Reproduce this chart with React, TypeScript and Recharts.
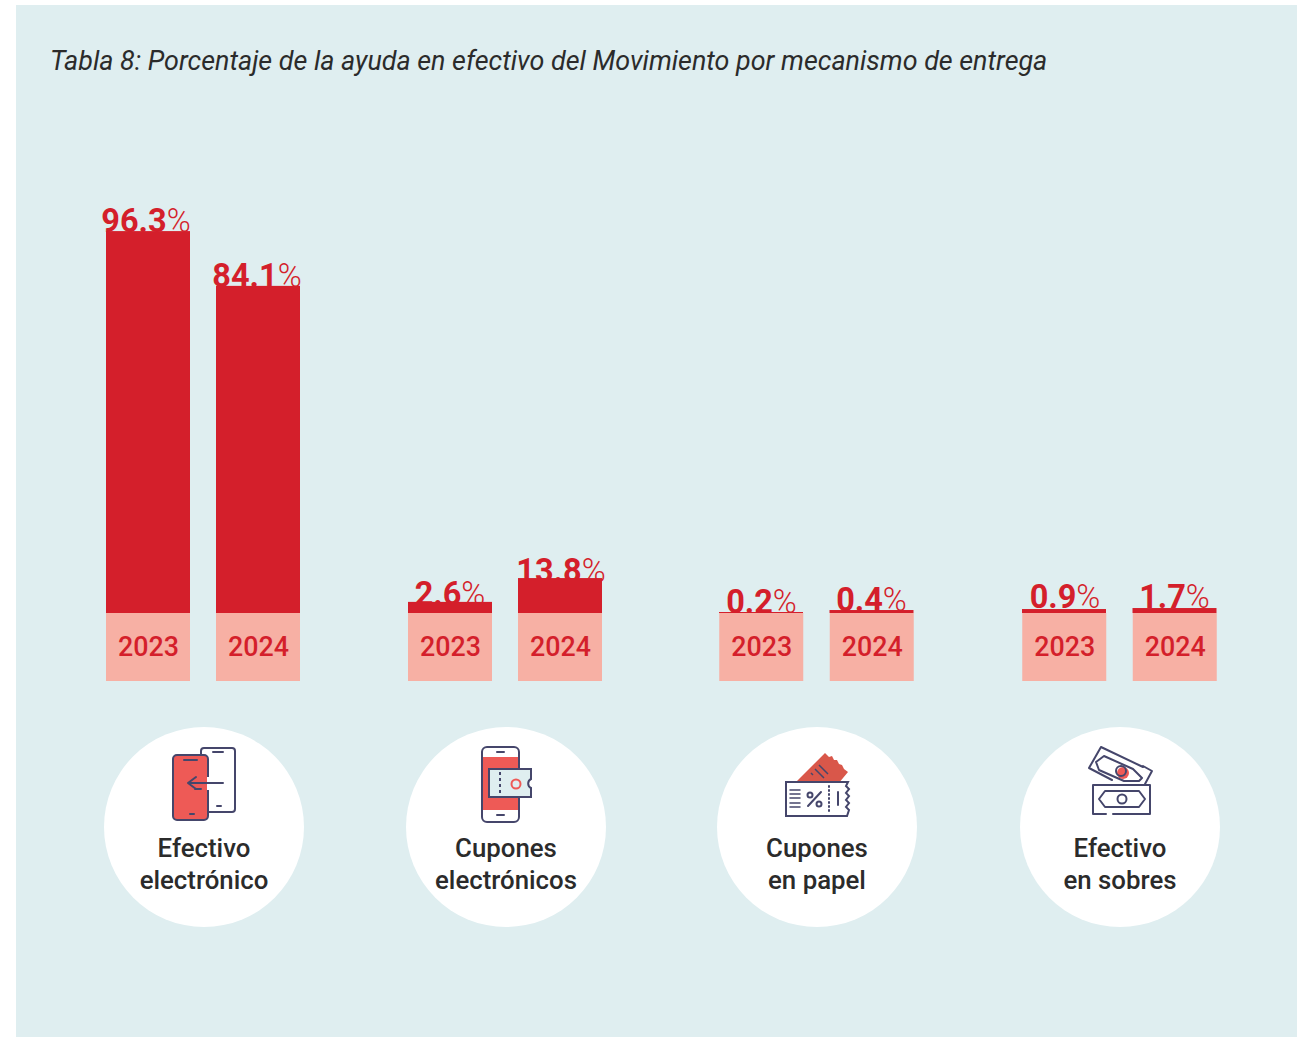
import React from 'react';
import { BarChart, Bar, XAxis, YAxis } from 'recharts';

const TITLE = 'Tabla 8: Porcentaje de la ayuda en efectivo del Movimiento por mecanismo de entrega';

const years = ['2023', '2024'];
const mechanisms = [
  ['Efectivo', 'electrónico'],
  ['Cupones', 'electrónicos'],
  ['Cupones', 'en papel'],
  ['Efectivo', 'en sobres'],
];

// printed percentages
const printedValues = [
  [96.3, 84.1],
  [2.6, 13.8],
  [0.2, 0.4],
  [0.9, 1.7],
];

// the bars in the source are not to scale with their labels, so these are read off the bar heights
const drawnHeights = [
  [96.2, 82.4],
  [2.8, 8.8],
  [0.25, 0.75],
  [1.0, 1.25],
];

const RED = '#d41f2b';
const PALE = '#f7b0a4';
const PANEL = '#dfeef0';
const INK = '#45466b';
const ICON_RED = '#ee5a56';
const FONT = 'Roboto, sans-serif';

// left edge and slot width of each small chart
const chartLeft = [93, 395, 706, 1009];
const slotWidth = [110, 110, 110.5, 110.5];
const circleX = [204, 506, 817, 1120];

// label nudges, [dx, dy] from the top centre of the bar
const labelNudge = [
  [[-2, 0.5], [-1, 1.5]],
  [[0, 3.5], [1, 3.5]],
  [[0.5, 1], [0, 0.5]],
  [[1, -1.5], [0, -0.5]],
];

const YearTick = ({ x, y, payload }: any) => (
  <g>
    <rect x={x - 42} y={y} width={84} height={68} fill={PALE} />
    <text x={x + 0.5} y={y + 42.5} textAnchor="middle" fontFamily={FONT} fontWeight={500} fontSize={26.8} fill={RED}>
      {payload.value}
    </text>
  </g>
);

// text first and bar after it: in the source the bar covers the foot of the figures
const BarWithLabel = ({ x, y, width, height, payload, nudges }: any) => {
  const [dx, dy] = nudges[years.indexOf(payload.year)];
  return (
    <g>
      <text x={x + width / 2 + dx} y={y + dy} textAnchor="middle" fontFamily={FONT} fontSize={32.5} fill={RED}>
        <tspan fontWeight={700}>{payload.printed}</tspan>
        <tspan fontWeight={300}>%</tspan>
      </text>
      <rect x={x} y={y} width={width} height={height} fill={RED} />
    </g>
  );
};

const MechanismChart = ({ index }: { index: number }) => {
  const data = years.map((year, i) => ({
    year,
    height: drawnHeights[index][i],
    printed: printedValues[index][i],
  }));
  return (
    <div style={{ position: 'absolute', left: chartLeft[index], top: 180 }}>
      <BarChart
        width={slotWidth[index] * 2}
        height={501}
        data={data}
        margin={{ top: 36, right: 0, bottom: 0, left: 0 }}
        style={{ overflow: 'visible' }}
      >
        <YAxis hide domain={[0, 100]} />
        <XAxis
          dataKey="year"
          height={68}
          interval={0}
          axisLine={false}
          tickLine={false}
          tickSize={0}
          tickMargin={0}
          tick={<YearTick />}
        />
        <Bar
          dataKey="height"
          barSize={84}
          isAnimationActive={false}
          shape={(props: any) => <BarWithLabel {...props} nudges={labelNudge[index]} />}
        />
      </BarChart>
    </div>
  );
};

const line = { fill: 'none', stroke: INK, strokeWidth: 2, strokeLinecap: 'round', strokeLinejoin: 'round' } as const;

const Icons = () => (
  <svg width={1297} height={1038} style={{ position: 'absolute', left: 0, top: 0 }}>
    {circleX.map((cx) => (
      <circle key={cx} cx={cx} cy={827} r={100} fill="#fff" />
    ))}

    {/* phones */}
    <path d="M201 754 v-3 a3 3 0 0 1 3-3 h28 a3 3 0 0 1 3 3 v58 a3 3 0 0 1-3 3 h-24" {...line} />
    <path d="M213 752 h10 M217 806 h4" {...line} />
    <rect x={173} y={755} width={35} height={65} rx={4} fill={ICON_RED} stroke={INK} strokeWidth={2} />
    <path d="M184 760 h13 M190 814 h4" {...line} />
    <rect x={207} y={777} width={3} height={13} fill="#fff" />
    <path d="M223 783 h-35 M196 777 l-8 6 l8 6 M195 789 h6" {...line} />

    {/* phone with coupon */}
    <rect x={482} y={747} width={37} height={75} rx={5} fill="#fff" stroke={INK} strokeWidth={2} />
    <rect x={483} y={757} width={35} height={53} fill={ICON_RED} />
    <path d="M497 752 h7 M497 815 h7" {...line} />
    <path d="M489 769 h42 v10 a5 5 0 0 0 0 9 v9 h-42 z" fill={PANEL} stroke={INK} strokeWidth={2} />
    <path d="M500 772 v24" {...line} strokeDasharray="3 3" strokeLinecap="butt" />
    <circle cx={516} cy={784} r={4.5} fill="none" stroke={ICON_RED} strokeWidth={2} />

    {/* paper coupons */}
    <path d="M796 782 L825 753 l4 4 l3 -1 l2 4 l3 0 l2 4 l3 1 l2 4 l4 3 l-10 12 z" fill="#d9574a" />
    <path d="M815 769 l9 9 M819 765 l9 9 M811 773 l2 2" fill="none" stroke={INK} strokeWidth={1.5} />
    <path
      d="M786 782 H848 l-2 4 l3 3 l-3 4 l3 3 l-3 4 l3 3 l-3 4 l3 3 l-2 6 H786 z"
      fill="#fff"
      stroke={INK}
      strokeWidth={2}
    />
    <path d="M790 790 h10 M790 794 h10 M790 798 h10 M790 803 h10 M790 807 h10" {...line} strokeWidth={1.5} />
    <path d="M808 806 l13 -14" {...line} />
    <circle cx={810} cy={795} r={2.5} {...line} />
    <circle cx={819} cy={804} r={2.5} {...line} />
    <path d="M829 786 v26" {...line} strokeDasharray="1 3" />
    <path d="M838 792 v13" {...line} />

    {/* banknotes */}
    <circle cx={1123} cy={773} r={6} fill={ICON_RED} />
    <circle cx={1121} cy={771} r={5} fill="none" stroke={INK} strokeWidth={2} />
    <path d="M1101 747 L1143 767 M1089 768 L1101 747 M1089 768 L1112 780" {...line} />
    <path d="M1104 756 L1133 769 L1142 778 L1139 781 L1124 781 L1099 770 L1096 762 z" {...line} />
    <path d="M1143 766 L1152 771 L1145 784" {...line} />
    <path d="M1106 814 H1093 V785 H1150 V814 H1113" {...line} />
    <path d="M1105 791 H1139 L1145 799 L1139 807 H1105 L1099 799 z" {...line} />
    <circle cx={1122} cy={799} r={4.5} {...line} />
  </svg>
);

const App = () => (
  <div style={{ position: 'absolute', left: 0, top: 0, width: 1297, height: 1038, background: '#fff', overflow: 'hidden' }}>
    <div style={{ position: 'absolute', left: 16, top: 5, width: 1281, height: 1032, background: PANEL }} />
    <div
      style={{
        position: 'absolute',
        left: 50,
        top: 46,
        fontFamily: FONT,
        fontStyle: 'italic',
        fontSize: 26.9,
        lineHeight: '30px',
        color: '#2b2b2b',
        whiteSpace: 'nowrap',
      }}
    >
      {TITLE}
    </div>
    <Icons />
    {mechanisms.map((_, i) => (
      <MechanismChart key={i} index={i} />
    ))}
    {mechanisms.map((lines, i) => (
      <div
        key={i}
        style={{
          position: 'absolute',
          left: circleX[i] - 100,
          top: 832,
          width: 200,
          textAlign: 'center',
          fontFamily: FONT,
          fontWeight: 500,
          fontSize: 25.8,
          lineHeight: '32px',
          color: '#2b2b2b',
        }}
      >
        {lines.map((text) => (
          <div key={text}>{text}</div>
        ))}
      </div>
    ))}
  </div>
);

export default App;
